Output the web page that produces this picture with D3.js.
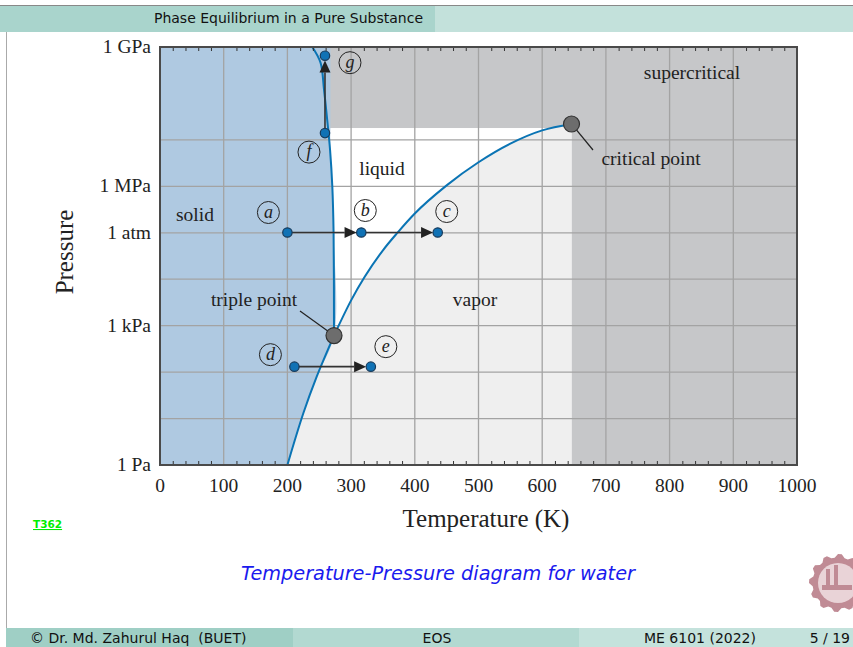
<!DOCTYPE html>
<html>
<head>
<meta charset="utf-8">
<script src="https://d3js.org/d3.v7.min.js"></script>
<style>
body{margin:0;background:#fff;}
svg{display:block;}
.serif{font-family:"Liberation Serif","Times New Roman",serif;fill:#222;}
.sans{font-family:"DejaVu Sans",sans-serif;}
</style>
</head>
<body>
<svg id="slide" width="853" height="647"></svg>
<script>
// phase boundaries (T in K, P in Pa)
var sublimT=[200,225,246,273.16];
var sublimP=[1,13,80,611.657];
var vapT=[273.16,300,350,373,400,450,500,550,600,646];
var vapP=[611.657,3.5e3,4.2e4,1.01e5,2.6e5,1.05e6,3.3e6,8.3e6,1.6e7,2.2e7];
var meltT=[273.16,272.5,270.5,267,263,257.5,252,239];
var meltP=[611.657,1e5,1e6,6e6,2.3e7,1.2e8,4.6e8,1e9];
var liquidTopP=1.8e7;   // white liquid box stops here
var solidEdgeT=267.5;   // blue fill edge above liquidTopP
var critT=646, critP=2.2e7;
var tripleT=273.16, tripleP=611.657;

// state points
var ptNames=['a','b','c','d','e','f','g'];
var ptT=[200,316,436,211,331,259,259];
var ptP=[101325,101325,101325,131,131,1.4e7,6.5e8];
var arrows=[[0,1],[1,2],[3,4],[5,6]];

// axes
var xTicks=[0,100,200,300,400,500,600,700,800,900,1000];
var yTickVals=[1,1e3,101325,1e6,1e9];
var yTickLabels=['1 Pa','1 kPa','1 atm','1 MPa','1 GPa'];
var yGrid=[10,100,1e3,1e4,1e5,1e6,1e7];

var svg=d3.select('#slide');

// ---- beamer header / footer
svg.append('rect').attr('x',0).attr('y',6).attr('width',435).attr('height',26).attr('fill','#a9d4cc');
svg.append('rect').attr('x',435).attr('y',6).attr('width',418).attr('height',26).attr('fill','#c3e1db');
svg.append('line').attr('x1',0).attr('x2',853).attr('y1',5.5).attr('y2',5.5).attr('stroke','#888').attr('stroke-width',1);
svg.append('line').attr('x1',6.5).attr('x2',6.5).attr('y1',32).attr('y2',628).attr('stroke','#aaa').attr('stroke-width',1);
svg.append('text').attr('class','sans').attr('x',423).attr('y',23).attr('text-anchor','end')
  .attr('font-size',14).attr('fill','#111').text('Phase Equilibrium in a Pure Substance');

svg.append('rect').attr('x',6).attr('y',628).attr('width',287).attr('height',19).attr('fill','#9fcfc5');
svg.append('rect').attr('x',293).attr('y',628).attr('width',286).attr('height',19).attr('fill','#b2d9d1');
svg.append('rect').attr('x',579).attr('y',628).attr('width',274).attr('height',19).attr('fill','#c4e2dc');
var ft=svg.append('g').attr('class','sans').attr('font-size',14).attr('fill','#111');
ft.append('text').attr('x',30).attr('y',643).attr('xml:space','preserve').text('\u00a9 Dr. Md. Zahurul Haq  (BUET)');
ft.append('text').attr('x',437).attr('y',643).attr('text-anchor','middle').text('EOS');
ft.append('text').attr('x',756).attr('y',643).attr('text-anchor','end').text('ME 6101 (2022)');
ft.append('text').attr('x',850).attr('y',643).attr('text-anchor','end').text('5 / 19');

svg.append('text').attr('class','sans').attr('x',33).attr('y',528).attr('font-size',10.5).attr('fill','#00ee00')
  .attr('font-weight','bold').attr('text-decoration','underline').text('T362');

svg.append('text').attr('class','sans').attr('x',438).attr('y',580).attr('text-anchor','middle')
  .attr('font-size',19.3).attr('font-style','italic').attr('fill','#1a1aee').text('Temperature-Pressure diagram for water');

// logo (gear), cut by page edge
var lg=svg.append('g').attr('transform','translate(838,583)');
var gear=[];
for(var i=0;i<48;i++){
  var a=i/48*2*Math.PI, r=(Math.floor(i/2)%2==0)?29:25.5;
  gear.push([r*Math.cos(a),r*Math.sin(a)]);
}
lg.append('path').attr('d',d3.line().curve(d3.curveLinearClosed)(gear)).attr('fill','#c08b95');
lg.append('circle').attr('r',20).attr('fill','#e9d3d7');
lg.append('rect').attr('x',-12).attr('y',-14).attr('width',4).attr('height',16).attr('fill','#c08b95');
lg.append('rect').attr('x',-4).attr('y',-18).attr('width',4).attr('height',20).attr('fill','#c08b95');
lg.append('rect').attr('x',-16).attr('y',2).attr('width',30).attr('height',5).attr('fill','#c08b95');

// ---- chart
var x=d3.scaleLinear().domain([0,1000]).range([160,797]);
var y=d3.scaleLog().domain([1,1e9]).range([465,47]);
var pl=x(0),pr=x(1000),pt=y(1e9),pb=y(1);

function pts(T,P){return T.map(function(t,i){return [x(t),y(P[i])];});}
var clip=svg.append('clipPath').attr('id','plotclip');
clip.append('rect').attr('x',pl).attr('y',pt).attr('width',pr-pl).attr('height',pb-pt);
var plot=svg.append('g').attr('clip-path','url(#plotclip)');

// supercritical background
plot.append('rect').attr('x',pl).attr('y',pt).attr('width',pr-pl).attr('height',pb-pt).attr('fill','#c6c7c9');
// liquid box
plot.append('rect').attr('x',x(250)).attr('y',y(liquidTopP)).attr('width',x(critT)-x(250)).attr('height',pb-y(liquidTopP)).attr('fill','#ffffff');
// vapour under the curves
var cl=d3.line().curve(d3.curveCatmullRom);
var cv=d3.line().curve(d3.curveMonotoneX);
var vapPoly=pts(sublimT,sublimP).concat(pts(vapT,vapP).slice(1));
plot.append('path').attr('d',cv(vapPoly)+'L'+[x(critT),pb]+'Z').attr('fill','#efefef');
// solid
var mlow=pts(meltT,meltP).filter(function(p){return p[1]>=y(liquidTopP);}).reverse();
var solidPath='M'+[pl,pt]+'L'+[x(solidEdgeT),pt]+'L'+[x(solidEdgeT),y(liquidTopP)]+
  'L'+cl(mlow.concat(pts(sublimT,sublimP).reverse().slice(1))).slice(1)+'L'+[pl,pb]+'Z';
plot.append('path').attr('d',solidPath).attr('fill','#afc9e1');

// grid
plot.selectAll('.vg').data(xTicks.slice(1,-1)).enter().append('line')
  .attr('x1',function(d){return x(d);}).attr('x2',function(d){return x(d);})
  .attr('y1',pt).attr('y2',pb).attr('stroke','#a3a3a3').attr('stroke-width',1.3);
plot.selectAll('.hg').data(yGrid).enter().append('line')
  .attr('y1',function(d){return y(d);}).attr('y2',function(d){return y(d);})
  .attr('x1',pl).attr('x2',pr).attr('stroke','#a3a3a3').attr('stroke-width',1.3);

// minor ticks top & bottom every 20 K
var minor=d3.range(20,1000,20).filter(function(d){return d%100!=0;});
svg.append('g').attr('transform','translate(0,'+pb+')')
  .call(d3.axisBottom(x).tickValues(minor).tickSize(-4).tickFormat(''))
  .call(function(g){g.select('.domain').remove();g.selectAll('line').attr('stroke','#333');});
svg.append('g').attr('transform','translate(0,'+pt+')')
  .call(d3.axisTop(x).tickValues(minor).tickSize(-4).tickFormat(''))
  .call(function(g){g.select('.domain').remove();g.selectAll('line').attr('stroke','#333');});

// phase curves
plot.append('path').attr('d',cl(pts(sublimT,sublimP))).attr('fill','none').attr('stroke','#0a74b4').attr('stroke-width',2);
plot.append('path').attr('d',cv(pts(vapT,vapP))).attr('fill','none').attr('stroke','#0a74b4').attr('stroke-width',2);
plot.append('path').attr('d',cl(pts(meltT,meltP))).attr('fill','none').attr('stroke','#0a74b4').attr('stroke-width',2);

// frame
svg.append('rect').attr('x',pl).attr('y',pt).attr('width',pr-pl).attr('height',pb-pt)
  .attr('fill','none').attr('stroke','#4a4a4a').attr('stroke-width',2);

// tick labels
svg.selectAll('.xl').data(xTicks).enter().append('text').attr('class','serif')
  .attr('x',function(d){return x(d);}).attr('y',pb+27).attr('text-anchor','middle').attr('font-size',19.5)
  .text(function(d){return d;});
svg.selectAll('.yl').data(yTickVals).enter().append('text').attr('class','serif')
  .attr('x',pl-9).attr('y',function(d){return y(d)+6;}).attr('text-anchor','end').attr('font-size',19.5)
  .text(function(d,i){return yTickLabels[i];});
svg.append('text').attr('class','serif').attr('x',486).attr('y',527).attr('text-anchor','middle').attr('font-size',25).text('Temperature (K)');
svg.append('text').attr('class','serif').attr('transform','translate(73,252) rotate(-90)').attr('text-anchor','middle').attr('font-size',25).text('Pressure');

// region labels
var rl=svg.append('g').attr('class','serif').attr('font-size',19.5).attr('text-anchor','middle');
rl.append('text').attr('x',195).attr('y',221).text('solid');
rl.append('text').attr('x',382).attr('y',175).text('liquid');
rl.append('text').attr('x',475).attr('y',306).text('vapor');
rl.append('text').attr('x',692).attr('y',79).text('supercritical');
rl.append('text').attr('x',254).attr('y',306).text('triple point');
rl.append('text').attr('x',651).attr('y',165).text('critical point');
svg.append('line').attr('x1',300).attr('y1',311).attr('x2',x(tripleT)).attr('y2',y(tripleP)).attr('stroke','#222').attr('stroke-width',1.2);
svg.append('line').attr('x1',x(critT)).attr('y1',y(critP)).attr('x2',593).attr('y2',150).attr('stroke','#222').attr('stroke-width',1.2);

// arrows between state points
var R=4.7;
arrows.forEach(function(a){
  var p0=[x(ptT[a[0]]),y(ptP[a[0]])], p1=[x(ptT[a[1]]),y(ptP[a[1]])];
  var dx=p1[0]-p0[0], dy=p1[1]-p0[1], L=Math.sqrt(dx*dx+dy*dy), ux=dx/L, uy=dy/L;
  var tip=[p1[0]-ux*R,p1[1]-uy*R], base=[tip[0]-ux*12,tip[1]-uy*12];
  svg.append('line').attr('x1',p0[0]).attr('y1',p0[1]).attr('x2',base[0]).attr('y2',base[1]).attr('stroke','#333').attr('stroke-width',1.6);
  svg.append('path').attr('d','M'+tip+'L'+[base[0]-uy*5.5,base[1]+ux*5.5]+'L'+[base[0]+uy*5.5,base[1]-ux*5.5]+'Z').attr('fill','#222');
});

// special points
svg.append('circle').attr('cx',x(tripleT)).attr('cy',y(tripleP)).attr('r',8).attr('fill','#6d6d6d').attr('stroke','#333').attr('stroke-width',1.2);
svg.append('circle').attr('cx',x(critT)).attr('cy',y(critP)).attr('r',8).attr('fill','#6d6d6d').attr('stroke','#333').attr('stroke-width',1.2);

svg.selectAll('.pt').data(ptT).enter().append('circle')
  .attr('cx',function(d){return x(d);}).attr('cy',function(d,i){return y(ptP[i]);}).attr('r',R)
  .attr('fill','#1072b5').attr('stroke','#173b5c').attr('stroke-width',1.2);

// circled letters
var labOff=[[-19,-20],[4,-22],[9,-21],[-24,-12],[15,-20],[-16,19],[25,7]];
ptNames.forEach(function(n,i){
  var cx=x(ptT[i])+labOff[i][0], cy=y(ptP[i])+labOff[i][1];
  svg.append('circle').attr('cx',cx).attr('cy',cy).attr('r',11).attr('fill','none').attr('stroke','#222').attr('stroke-width',1);
  svg.append('text').attr('class','serif').attr('x',cx).attr('y',cy+5).attr('text-anchor','middle')
    .attr('font-size',18).attr('font-style','italic').text(n);
});
</script>
</body>
</html>
